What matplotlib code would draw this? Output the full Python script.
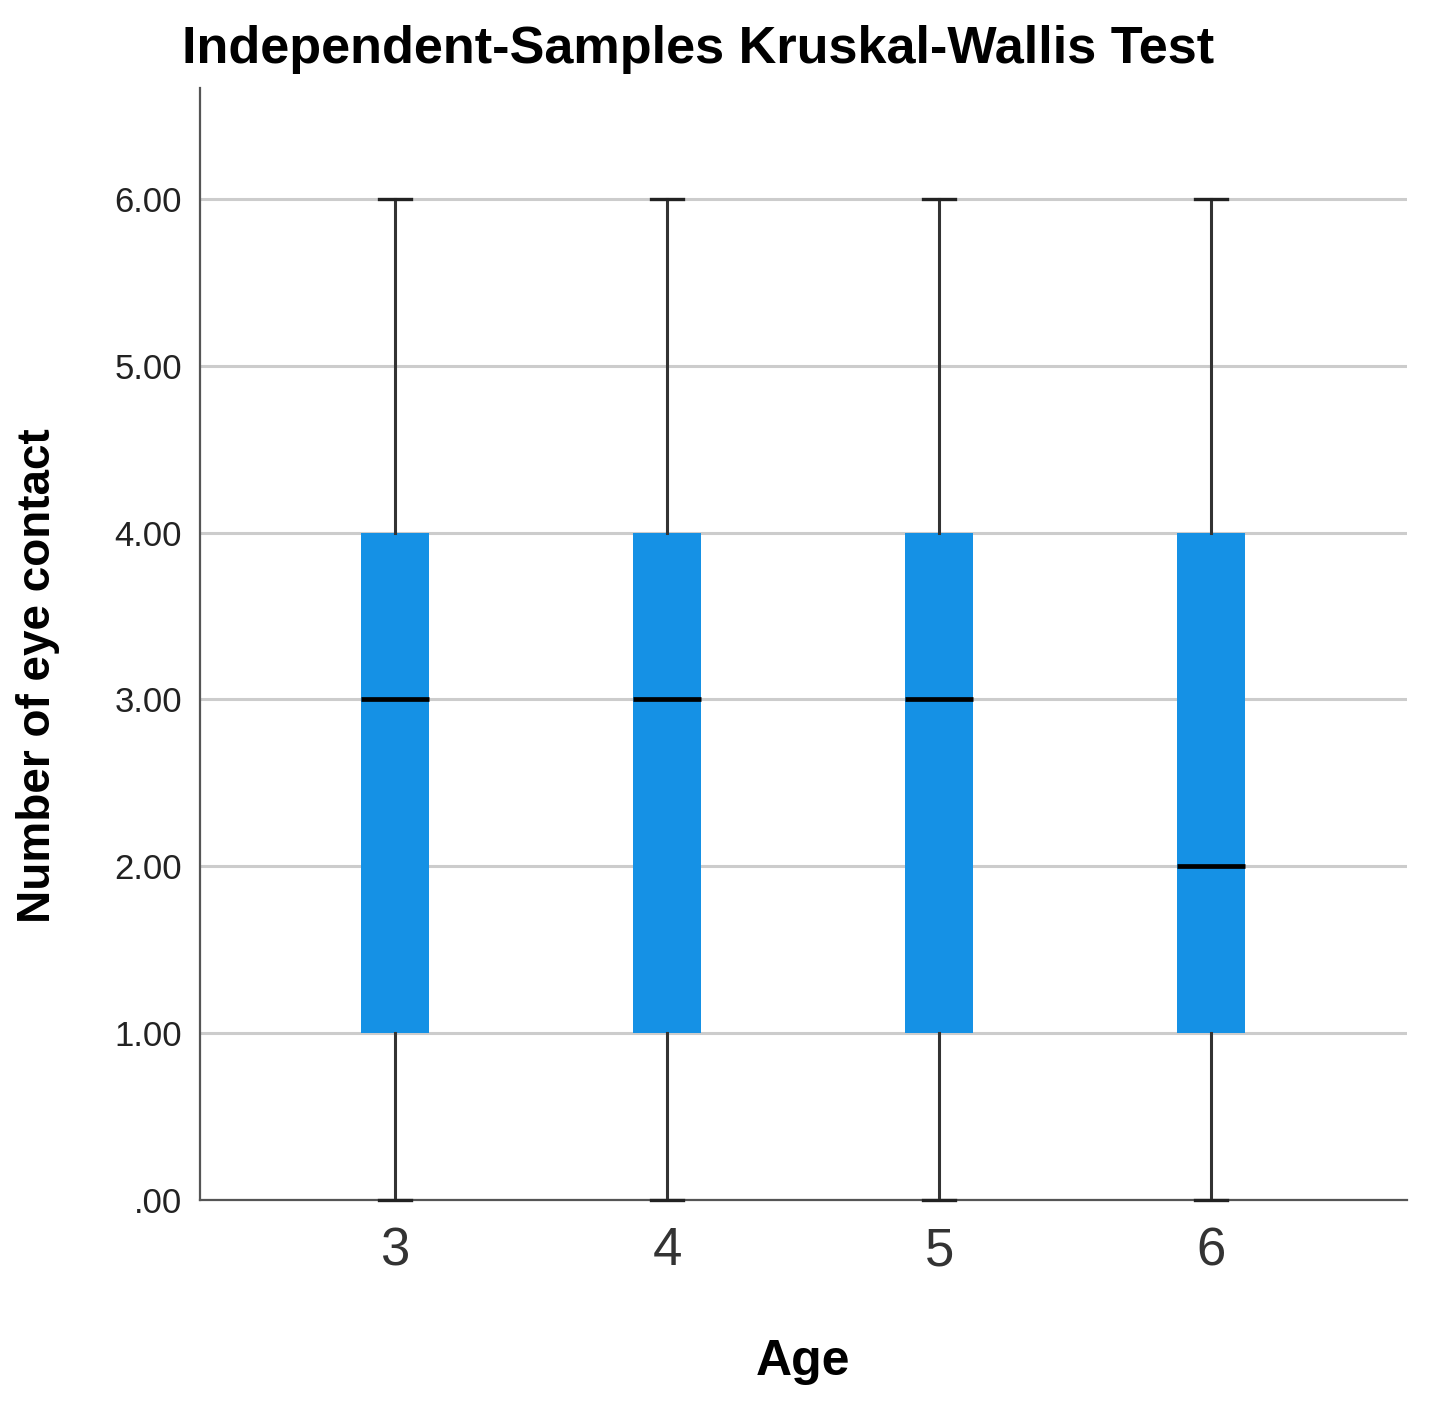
import matplotlib
matplotlib.use('Agg')
import matplotlib.pyplot as plt

# values
ages = ['3', '4', '5', '6']
mins = [0.0, 0.0, 0.0, 0.0]
q1s = [1.0, 1.0, 1.0, 1.0]
medians = [3.0, 3.0, 3.0, 2.0]
q3s = [4.0, 4.0, 4.0, 4.0]
maxs = [6.0, 6.0, 6.0, 6.0]
yticks = [0, 1, 2, 3, 4, 5, 6]
ytick_labels = ['.00', '1.00', '2.00', '3.00', '4.00', '5.00', '6.00']

plt.rcParams['font.family'] = ['Liberation Sans', 'DejaVu Sans']

W, H = 1431, 1407
fig = plt.figure(figsize=(W / 100, H / 100), dpi=100)
ax = fig.add_axes([200 / W, 1 - 1200 / H, 1207 / W, 1112 / H])

stats = []
for i in range(len(ages)):
    stats.append({'whislo': mins[i], 'q1': q1s[i], 'med': medians[i],
                  'q3': q3s[i], 'whishi': maxs[i], 'fliers': [], 'label': ages[i]})

parts = ax.bxp(stats, positions=range(len(ages)), widths=0.25, capwidths=0.118,
               showfliers=False, patch_artist=True,
               boxprops=dict(facecolor='#1591e5', edgecolor='#1591e5', linewidth=0),
               medianprops=dict(color='black', linewidth=3.4),
               whiskerprops=dict(color='#333333', linewidth=2.2),
               capprops=dict(color='#222222', linewidth=2.4),
               zorder=3)
# caps at .00 sit on the axis line, keep them visible
for cap in parts['caps']:
    cap.set_clip_on(False)
    cap.set_zorder(5)

ax.set_xlim(-0.717, 3.72)
ax.set_ylim(0, 6.665)
ax.set_yticks(yticks)
ax.set_yticklabels(ytick_labels)
ax.set_xticks(range(len(ages)))
ax.set_xticklabels(ages)

ax.yaxis.grid(True, color='#cccccc', linewidth=2.2, zorder=0)
ax.set_axisbelow(True)

for s in ['top', 'right']:
    ax.spines[s].set_visible(False)
for s in ['left', 'bottom']:
    ax.spines[s].set_color('#555555')
    ax.spines[s].set_linewidth(1.6)
    ax.spines[s].set_zorder(4)

ax.tick_params(axis='y', length=0, pad=13, labelsize=25, labelcolor='#222222')
ax.tick_params(axis='x', length=0, pad=19, labelsize=38, labelcolor='#333333')
for lbl in ax.get_yticklabels():
    lbl.set_va('center_baseline')

fig.text(182 / W, 1 - 63 / H, 'Independent-Samples Kruskal-Wallis Test',
         fontsize=37.6, fontweight='bold', ha='left', va='baseline')
fig.text(803 / W, 1 - 1375 / H, 'Age', fontsize=36, fontweight='bold',
         ha='center', va='baseline')
fig.text(38 / W, 1 - 676 / H, 'Number of eye contact', fontsize=33,
         fontweight='bold', rotation=90, ha='center', va='center')

fig.savefig('out.png', dpi=100)
